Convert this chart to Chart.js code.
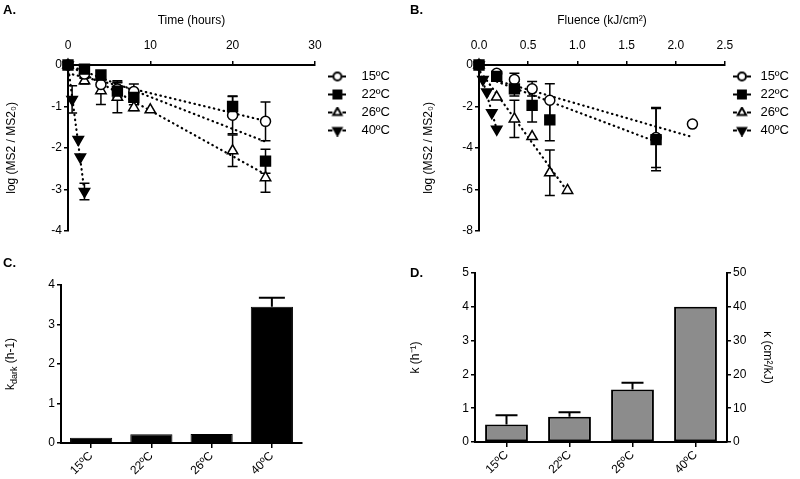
<!DOCTYPE html>
<html>
<head>
<meta charset="utf-8">
<script src="https://cdn.jsdelivr.net/npm/chart.js@4.4.1/dist/chart.umd.min.js"></script>
<style>
  body { margin: 0; background: #fff; }
  #wrap { position: relative; width: 800px; height: 479px; font-family: 'Liberation Sans', Arial, sans-serif; color: #000; }
  canvas { position: absolute; }
  .tag { position: absolute; font-weight: bold; font-size: 13px; }
  .ytitle { position: absolute; font-size: 12px; white-space: nowrap; transform: translate(-50%, -50%) rotate(-90deg); }
  .ytitle sub { font-size: 9px; vertical-align: -3px; }
</style>
</head>
<body>
<div id="wrap">
  <canvas id="chartA" width="400" height="240" style="left:0;top:0"></canvas>
  <canvas id="chartB" width="400" height="240" style="left:400px;top:0"></canvas>
  <canvas id="chartC" width="400" height="239" style="left:0;top:240px"></canvas>
  <canvas id="chartD" width="400" height="239" style="left:400px;top:240px"></canvas>
  <div class="tag" style="left:3px;top:2px">A.</div>
  <div class="tag" style="left:410px;top:2px">B.</div>
  <div class="tag" style="left:3px;top:255px">C.</div>
  <div class="tag" style="left:410px;top:265px">D.</div>
  <div class="ytitle" style="left:11px;top:364px">k<sub>dark</sub> (h-1)</div>
</div>
<script>
Chart.defaults.font.family = "'Liberation Sans', Arial, sans-serif";
Chart.defaults.font.size = 12;
Chart.defaults.color = '#000';
Chart.defaults.animation = false;

const seriesNames = ['15ºC', '22ºC', '26ºC', '40ºC'];

// Panel A: time (hours) vs log(MS2/MS2_0)
const timeA15 = [0, 2, 4, 6, 8, 20, 24];
const logA15 = [0, -0.22, -0.47, -0.58, -0.64, -1.21, -1.36];
const errA15 = [0, 0.1, 0.2, 0.2, 0.18, 0.45, 0.47];
const timeA22 = [0, 2, 4, 6, 8, 20, 24];
const logA22 = [0, -0.1, -0.24, -0.63, -0.78, -1.0, -2.32];
const errA22 = [0, 0.05, 0.1, 0.2, 0.1, 0.25, 0.29];
const timeA26 = [0, 2, 4, 6, 8, 10, 20, 24];
const logA26 = [0, -0.38, -0.62, -0.78, -1.03, -1.08, -2.07, -2.72];
const errA26 = [0, 0.08, 0.33, 0.37, 0.07, 0, 0.38, 0.35];
const timeA40 = [0, 0.5, 1.25, 1.5, 2];
const logA40 = [0, -0.83, -1.8, -2.22, -3.05];
const errA40 = [0, 0.33, 0, 0, 0.2];
// linear fits (end points)
const fitTimeA = [[0, 24], [0, 24], [0, 24], [0, 2]];
const fitLogA = [[-0.2, -1.35], [0, -1.85], [0, -2.64], [0, -3.05]];

// Panel B: fluence (kJ/cm2) vs log(MS2/MS2_0)
const fluB15 = [0, 0.18, 0.36, 0.54, 0.72, 1.8, 2.17];
const logB15 = [0, -0.4, -0.7, -1.15, -1.7, -3.5, -2.85];
const errB15 = [0, 0.1, 0.3, 0.35, 0.8, 1.45, 0];
const fluB22 = [0, 0.18, 0.36, 0.54, 0.72, 1.8];
const logB22 = [0, -0.55, -1.15, -1.95, -2.65, -3.6];
const errB22 = [0, 0.1, 0.35, 0.8, 1.0, 1.5];
const fluB26 = [0, 0.18, 0.36, 0.54, 0.72, 0.9];
const logB26 = [0, -1.55, -2.6, -3.45, -5.2, -6.05];
const errB26 = [0, 0, 0.9, 0, 1.1, 0];
const fluB40 = [0, 0.04, 0.08, 0.13, 0.18];
const logB40 = [0, -0.7, -1.3, -2.3, -3.1];
const errB40 = [0, 0, 0, 0, 0];
const fitFluB = [[0.18, 2.15], [0.18, 1.8], [0.05, 0.9], [0, 0.18]];
const fitLogB = [[-0.75, -3.45], [-0.8, -3.7], [-0.55, -6.1], [-0.1, -3.1]];

// Panel C: dark inactivation rate
const kDark = [0.13, 0.22, 0.23, 3.45];
const kDarkErr = [0, 0, 0, 0.23];

// Panel D: k (h-1) / kappa (cm2/kJ)
const kLight = [0.52, 0.75, 1.55, 4.0];
const kLightErr = [0.27, 0.13, 0.2, 0];

const markers = [
  { pointStyle: 'circle', radius: 5, rotation: 0, fill: '#fff', order: 1 },
  { pointStyle: 'rect', radius: 7, rotation: 0, fill: '#000', order: 0 },
  { pointStyle: 'triangle', radius: 6, rotation: 0, fill: '#fff', order: 1 },
  { pointStyle: 'triangle', radius: 6, rotation: 180, fill: '#000', order: 1 },
];

const points = (xs, ys) => xs.map((x, i) => ({ x: x, y: ys[i] }));

function seriesDataset(i, xs, ys, errs) {
  const m = markers[i];
  return {
    label: seriesNames[i],
    data: points(xs, ys),
    errors: errs,
    showLine: false,
    pointStyle: m.pointStyle,
    pointRadius: m.radius,
    pointRotation: m.rotation,
    pointBackgroundColor: m.fill,
    pointBorderColor: '#000',
    pointBorderWidth: 1.5,
    clip: false,
    order: m.order,
  };
}

function fitDataset(xs, ys) {
  return {
    data: points(xs, ys),
    showLine: true,
    borderColor: '#000',
    borderWidth: 2.2,
    borderDash: [0.5, 4.5],
    borderCapStyle: 'round',
    pointRadius: 0,
    clip: false,
    order: 2,
  };
}

// little "-o-" symbols for the legends
function legendIcon(m) {
  const c = document.createElement('canvas');
  c.width = 18; c.height = 12;
  const g = c.getContext('2d');
  g.strokeStyle = '#000';
  g.lineWidth = 2;
  g.beginPath();
  g.moveTo(0, 6); g.lineTo(4, 6);
  g.moveTo(14, 6); g.lineTo(18, 6);
  g.stroke();
  g.fillStyle = m.fill;
  Chart.helpers.drawPoint(g, { pointStyle: m.pointStyle, radius: m.radius * 0.8, rotation: m.rotation, borderWidth: 1.5 }, 9, 6);
  return c;
}
const icons = markers.map(legendIcon);

function legendOpts(symbolWidth) {
  return {
    position: 'right',
    align: 'start',
    fullSize: false,
    labels: {
      usePointStyle: true,
      pointStyleWidth: symbolWidth,
      padding: 5,
      color: '#000',
      font: { size: 13 },
      generateLabels: () => seriesNames.map((name, i) => ({
        text: name, pointStyle: icons[i], fillStyle: '#000', strokeStyle: '#000',
        lineWidth: 0, hidden: false, datasetIndex: i, fontColor: '#000',
      })),
    },
  };
}

// error bars drawn through the chart scales
const errorBars = {
  id: 'errorBars',
  beforeDatasetsDraw(chart, args, opts) { if (!opts.upOnly) drawErrors(chart, opts); },
  afterDatasetsDraw(chart, args, opts) { if (opts.upOnly) drawErrors(chart, opts); },
};

function drawErrors(chart, opts) {
  const ctx = chart.ctx;
  chart.data.datasets.forEach((ds, i) => {
    if (!ds.errors) return;
    const meta = chart.getDatasetMeta(i);
    const yScale = chart.scales[meta.yAxisID];
    ctx.save();
    ctx.strokeStyle = '#000';
    ctx.lineWidth = opts.lineWidth;
    meta.data.forEach((el, j) => {
      const err = ds.errors[j];
      if (!err) return;
      const raw = ds.data[j];
      const v = typeof raw === 'object' ? raw.y : raw;
      const x = el.x;
      const yTop = yScale.getPixelForValue(v + err);
      const yBot = opts.upOnly ? yScale.getPixelForValue(v) : yScale.getPixelForValue(v - err);
      const hw = opts.capWidth / 2;
      ctx.beginPath();
      ctx.moveTo(x, yTop); ctx.lineTo(x, yBot);
      ctx.moveTo(x - hw, yTop); ctx.lineTo(x + hw, yTop);
      if (!opts.upOnly) { ctx.moveTo(x - hw, yBot); ctx.lineTo(x + hw, yBot); }
      ctx.stroke();
    });
    ctx.restore();
  });
}

const axisGrid = { drawOnChartArea: false, tickLength: 4, color: '#000', lineWidth: 1.5 };
const axisBorder = { color: '#000', width: 2 };

function logScatter(id, xTitle, xMax, xStep, xFmt, yMin, yStep, datasets, padding, yWidth, symbolWidth) {
  return new Chart(document.getElementById(id), {
    type: 'scatter',
    data: { datasets: datasets },
    plugins: [errorBars],
    options: {
      responsive: false,
      devicePixelRatio: 1,
      layout: { padding: padding },
      plugins: {
        legend: legendOpts(symbolWidth),
        tooltip: { enabled: false },
        errorBars: { capWidth: 10, lineWidth: 1.5, upOnly: false },
      },
      scales: {
        x: {
          type: 'linear', position: 'top', min: 0, max: xMax,
          ticks: { stepSize: xStep, padding: 8, callback: xFmt },
          grid: axisGrid, border: axisBorder,
          title: { display: true, text: xTitle, padding: { top: 4, bottom: 4 } },
          afterFit: (s) => { s.height = 56; },
        },
        y: {
          min: yMin, max: 0,
          ticks: { stepSize: yStep, padding: 2 },
          grid: axisGrid, border: axisBorder,
          title: { display: true, text: 'log (MS2 / MS2₀)' },
          afterFit: (s) => { s.width = yWidth; },
        },
      },
    },
  });
}

const dsA = [
  seriesDataset(0, timeA15, logA15, errA15),
  seriesDataset(1, timeA22, logA22, errA22),
  seriesDataset(2, timeA26, logA26, errA26),
  seriesDataset(3, timeA40, logA40, errA40),
].concat(fitTimeA.map((xs, i) => fitDataset(xs, fitLogA[i])));

const dsB = [
  seriesDataset(0, fluB15, logB15, errB15),
  seriesDataset(1, fluB22, logB22, errB22),
  seriesDataset(2, fluB26, logB26, errB26),
  seriesDataset(3, fluB40, logB40, errB40),
].concat(fitFluB.map((xs, i) => fitDataset(xs, fitLogB[i])));

logScatter('chartA', 'Time (hours)', 30, 10, (v) => v, -4, 1, dsA,
  { top: 9, left: 0, right: 0, bottom: 9 }, 68, 35);
logScatter('chartB', 'Fluence (kJ/cm²)', 2.5, 0.5, (v) => v.toFixed(1), -8, 2, dsB,
  { top: 9, left: 17, right: 1, bottom: 9 }, 62, 24);

const catGrid = { drawOnChartArea: false, offset: false, tickLength: 5, color: '#000', lineWidth: 1.5 };

// Panel C
new Chart(document.getElementById('chartC'), {
  type: 'bar',
  data: {
    labels: seriesNames,
    datasets: [{ data: kDark, errors: kDarkErr, backgroundColor: '#000', borderColor: '#000', borderWidth: 1, barPercentage: 0.7, categoryPercentage: 1 }],
  },
  plugins: [errorBars],
  options: {
    responsive: false,
    devicePixelRatio: 1,
    layout: { padding: { top: 45, left: 0, right: 98, bottom: 0 } },
    plugins: {
      legend: { display: false },
      tooltip: { enabled: false },
      errorBars: { capWidth: 26, lineWidth: 2, upOnly: true },
    },
    scales: {
      x: {
        grid: catGrid, border: axisBorder,
        ticks: { minRotation: 45, maxRotation: 45, padding: 1 },
        afterFit: (s) => { s.height = 36; },
      },
      y: {
        min: 0, max: 4,
        ticks: { stepSize: 1, padding: 2 },
        grid: axisGrid, border: axisBorder,
        afterFit: (s) => { s.width = 61; },
      },
    },
  },
});

// Panel D
new Chart(document.getElementById('chartD'), {
  type: 'bar',
  data: {
    labels: seriesNames,
    datasets: [{ data: kLight, errors: kLightErr, yAxisID: 'y', backgroundColor: '#8c8c8c', borderColor: '#000', borderWidth: 2, borderSkipped: false, barPercentage: 0.68, categoryPercentage: 1 }],
  },
  plugins: [errorBars],
  options: {
    responsive: false,
    devicePixelRatio: 1,
    layout: { padding: { top: 33, left: 4, right: 21, bottom: 0 } },
    plugins: {
      legend: { display: false },
      tooltip: { enabled: false },
      errorBars: { capWidth: 22, lineWidth: 2, upOnly: true },
    },
    scales: {
      x: {
        grid: catGrid, border: axisBorder,
        ticks: { minRotation: 45, maxRotation: 45, padding: 1 },
        afterFit: (s) => { s.height = 37; },
      },
      y: {
        position: 'left', min: 0, max: 5,
        ticks: { stepSize: 1, padding: 2 },
        grid: axisGrid, border: axisBorder,
        title: { display: true, text: 'k (h⁻¹)' },
        afterFit: (s) => { s.width = 71; },
      },
      y1: {
        display: true, position: 'right', min: 0, max: 50,
        ticks: { stepSize: 10, padding: 2 },
        grid: axisGrid, border: axisBorder,
        title: { display: true, text: 'κ (cm²/kJ)' },
        afterFit: (s) => { s.width = 52; },
      },
    },
  },
});
</script>
</body>
</html>
